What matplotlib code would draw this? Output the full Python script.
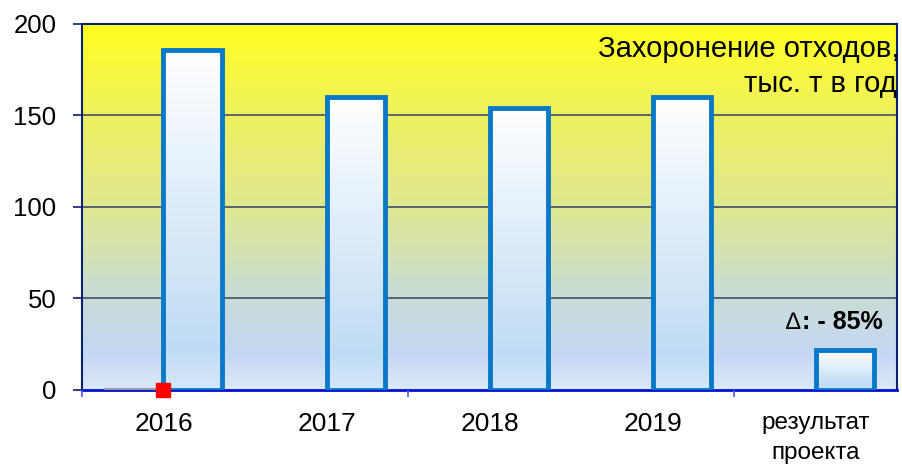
import matplotlib.pyplot as plt
import numpy as np
from matplotlib.colors import LinearSegmentedColormap

plt.rcParams['font.family'] = ['Liberation Sans', 'DejaVu Sans']

categories = ['2016', '2017', '2018', '2019', 'результат\nпроекта']
values = [186, 160, 154, 160, 22]
marker_values = [0]  # the stray point series at 2016

fig = plt.figure(figsize=(9.02, 4.66), dpi=100)
ax = fig.add_axes([0.0909, 0.1631, 0.9036, 0.7854])

n = len(categories)
ax.set_xlim(-0.5, n - 0.5)
ax.set_ylim(0, 200)

# background gradient: yellow at the top to pale blue at the bottom
bg = LinearSegmentedColormap.from_list('bg', [
    (0.0, '#dce8f8'), (0.1, '#c4d8f4'), (0.25, '#c8dcd8'),
    (0.5, '#e0e890'), (0.75, '#eef060'), (1.0, '#ffff20')])
grad = np.linspace(0, 1, 256).reshape(-1, 1)
ax.imshow(grad, cmap=bg, origin='lower', aspect='auto',
          extent=(-0.5, n - 0.5, 0, 200), zorder=0)

for y in (50, 100, 150):
    ax.axhline(y, color='#405068', lw=1.2, zorder=1)

# bars with white -> light blue gradient
bar_cmap = LinearSegmentedColormap.from_list('bar', [
    (0.0, '#d6e8fa'), (0.12, '#c0dcf4'), (1.0, '#ffffff')])
x = np.arange(n)
offset, width = 0.18, 0.36
for xi, v in zip(x, values):
    x0 = xi + offset - width / 2
    ax.imshow(grad, cmap=bar_cmap, origin='lower', aspect='auto',
              extent=(x0, x0 + width, 0, v), zorder=2)
    ax.bar(xi + offset, v, width=width, facecolor='none',
           edgecolor='#0a78c8', linewidth=3.5, zorder=3)

# gray stub and red square
ax.plot([-0.36, -0.02], [0.6, 0.6], color='#a0a0a0', lw=1.5, zorder=4, clip_on=False)
ax.plot(x[:1], marker_values, 's', color='red', markersize=10, zorder=5, clip_on=False)

ax.set_xticks(x)
ax.set_xticklabels(categories, fontsize=19)
ax.get_xticklabels()[-1].set_fontsize(17.5)
ax.get_xticklabels()[-1].set_linespacing(1.45)
ax.set_xticks([-0.5, 1.5, 3.5], minor=True)
ax.tick_params(axis='x', which='major', length=0, pad=16)
ax.tick_params(axis='x', which='minor', length=5, color='#5060f0', width=1.2)
ax.set_yticks([0, 50, 100, 150, 200])
ax.tick_params(axis='y', labelsize=18.5, length=6.5, color='#0a2070', width=1.2, pad=12)

for side in ('left', 'top', 'right'):
    ax.spines[side].set_color('#0a2070')
    ax.spines[side].set_linewidth(1.5)
ax.spines['bottom'].set_color('#0010d0')
ax.spines['bottom'].set_linewidth(2)
ax.set_axisbelow(False)

fig.text(0.997, 1 - 57 / 466, 'Захоронение отходов,', ha='right', va='baseline', fontsize=21)
fig.text(0.994, 1 - 92 / 466, 'тыс. т в год', ha='right', va='baseline', fontsize=21)
fig.text(800 / 902, 1 - 329 / 466, '\u2206', ha='right', va='baseline', fontsize=17)
fig.text(883 / 902, 1 - 329 / 466, ': - 85%', ha='right', va='baseline',
         fontsize=18, fontweight='bold')

fig.savefig('out.png', dpi=100)
